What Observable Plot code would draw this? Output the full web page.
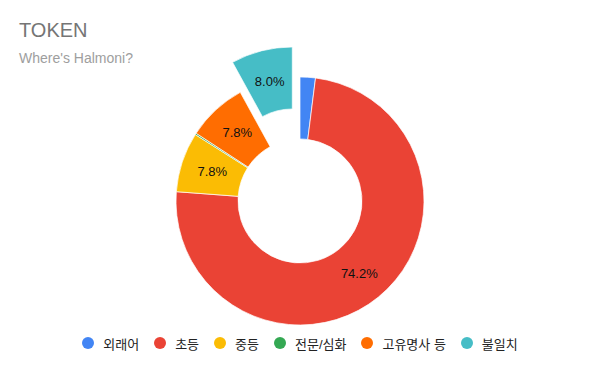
<!DOCTYPE html>
<html><head><meta charset="utf-8">
<script src="https://cdn.jsdelivr.net/npm/d3@7"></script>
<script src="https://cdn.jsdelivr.net/npm/@observablehq/plot@0.6"></script>
<style>
body{margin:0;background:#fff;font-family:Arial,"Liberation Sans","Noto Sans CJK KR",sans-serif;}
#wrap{position:relative;width:600px;height:371px;overflow:hidden;background:#fff}
#title{position:absolute;left:19px;top:20px;font-size:20px;line-height:20px;color:#757575;white-space:nowrap}
#subtitle{position:absolute;left:19px;top:51px;font-size:14px;line-height:14px;color:#9e9e9e;white-space:nowrap}
#chart{position:absolute;left:0;top:0}
#legend{position:absolute;left:0;top:336px;width:600px;height:14px;display:flex;justify-content:center;align-items:center;font-size:13px;color:#222;font-family:Arial,"Noto Sans CJK KR",sans-serif}
.item{display:flex;align-items:center;margin:0 7.5px;white-space:nowrap}
.sw{width:12px;height:12px;border-radius:50%;margin-right:9px;flex:none}
</style></head><body>
<div id="wrap">
<div id="chart"></div>
<div id="title">TOKEN</div>
<div id="subtitle">Where's Halmoni?</div>
<div id="legend"></div>
</div>
<script>
const categories = ["외래어", "초등", "중등", "전문/심화", "고유명사 등", "불일치"];
const values = [2.0, 74.2, 7.8, 0.2, 7.8, 8.0];
const labels = ["", "74.2%", "7.8%", "", "7.8%", "8.0%"];
const colors = ["#4285F4", "#EA4335", "#FBBC04", "#34A853", "#FF6D01", "#46BDC6"];
const explode = [0, 0, 0, 0, 0, 0.25];

const arcs = d3.pie().sort(null).value(d => d).startAngle(0).endAngle(2 * Math.PI)(values);
const rows = arcs.map((a, i) => {
  const mid = (a.startAngle + a.endAngle) / 2;
  const r = 0.75 + explode[i];
  return {cat: categories[i], label: labels[i], x: r * Math.sin(mid), y: r * Math.cos(mid)};
});

const Rpx = 124;
function slices(index, scales) {
  const sc = (scales && typeof scales.x === "function") ? scales : index;
  const cx = sc.x(0), cy = sc.y(0);
  const R = sc.x(1) - sc.x(0);
  const arc = d3.arc().innerRadius(R * 0.5).outerRadius(R);
  const g = d3.create("svg:g");
  arcs.forEach((a, i) => {
    const mid = (a.startAngle + a.endAngle) / 2;
    const off = explode[i] * R;
    g.append("path")
      .attr("d", arc(a))
      .attr("transform", `translate(${cx + off * Math.sin(mid)},${cy - off * Math.cos(mid)})`)
      .attr("fill", colors[i])
      .attr("stroke", "#fff")
      .attr("stroke-width", 0.7);
  });
  return g.node();
}

const plot = Plot.plot({
  width: 600,
  height: 371,
  margin: 0,
  x: {domain: [-300 / Rpx, 300 / Rpx], axis: null},
  y: {domain: [-170 / Rpx, 201 / Rpx], axis: null},
  style: {background: "transparent", fontFamily: "Arial, 'Liberation Sans', sans-serif"},
  marks: [
    slices,
    Plot.text(rows.filter(d => d.label), {x: "x", y: "y", text: "label", fontSize: 13, fill: "#111"})
  ]
});
document.getElementById("chart").appendChild(plot);

const legend = document.getElementById("legend");
categories.forEach((c, i) => {
  const it = document.createElement("div");
  it.className = "item";
  it.innerHTML = `<span class="sw" style="background:${colors[i]}"></span><span>${c}</span>`;
  legend.appendChild(it);
});
</script>
</body></html>
